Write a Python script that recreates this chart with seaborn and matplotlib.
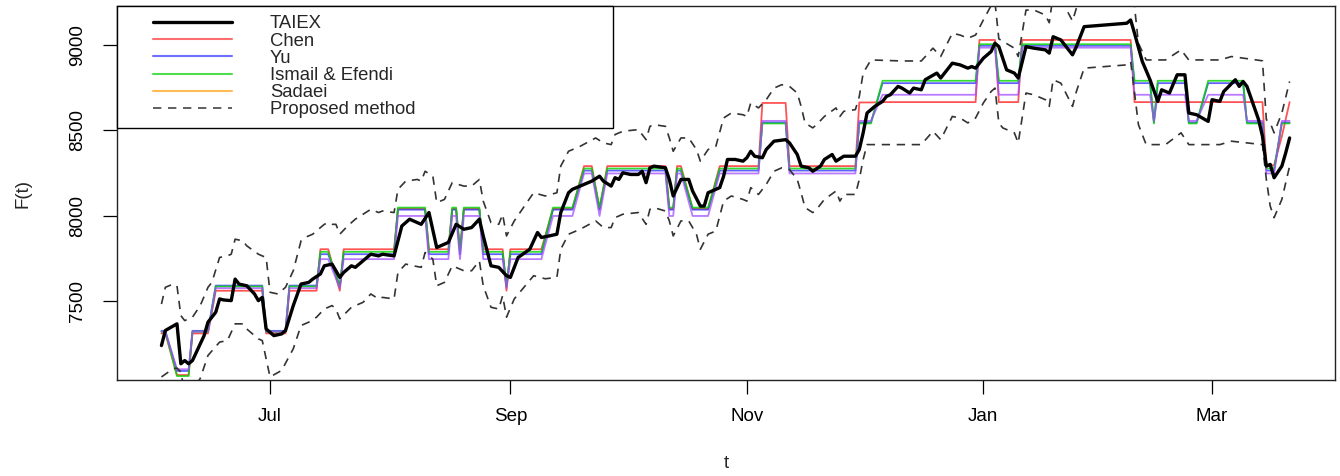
import matplotlib
matplotlib.use("Agg")
import matplotlib.pyplot as plt
import seaborn as sns
import pandas as pd
from matplotlib.lines import Line2D
from matplotlib.legend_handler import HandlerLine2D

# ---------------- data ----------------
taiex_dates = [
    "2010-06-03", "2010-06-04", "2010-06-07", "2010-06-08", "2010-06-09", "2010-06-10", "2010-06-11",
    "2010-06-14", "2010-06-15", "2010-06-17", "2010-06-18", "2010-06-19", "2010-06-21", "2010-06-22",
    "2010-06-23", "2010-06-25", "2010-06-27", "2010-06-28", "2010-06-29", "2010-06-30", "2010-07-02",
    "2010-07-04", "2010-07-05", "2010-07-07", "2010-07-09", "2010-07-11", "2010-07-12", "2010-07-14",
    "2010-07-15", "2010-07-17", "2010-07-19", "2010-07-20", "2010-07-22", "2010-07-23", "2010-07-27",
    "2010-07-29", "2010-07-30", "2010-08-02", "2010-08-04", "2010-08-06", "2010-08-09", "2010-08-11",
    "2010-08-13", "2010-08-16", "2010-08-18", "2010-08-20", "2010-08-22", "2010-08-24", "2010-08-25",
    "2010-08-27", "2010-08-29", "2010-08-31", "2010-09-01", "2010-09-03", "2010-09-06", "2010-09-08",
    "2010-09-09", "2010-09-11", "2010-09-13", "2010-09-14", "2010-09-16", "2010-09-17", "2010-09-19",
    "2010-09-22", "2010-09-24", "2010-09-25", "2010-09-27", "2010-09-28", "2010-09-29", "2010-09-30",
    "2010-10-02", "2010-10-04", "2010-10-05", "2010-10-06", "2010-10-07", "2010-10-08", "2010-10-11",
    "2010-10-12", "2010-10-13", "2010-10-14", "2010-10-15", "2010-10-17", "2010-10-18", "2010-10-20",
    "2010-10-21", "2010-10-22", "2010-10-24", "2010-10-25", "2010-10-26", "2010-10-27", "2010-10-29",
    "2010-10-31", "2010-11-01", "2010-11-02", "2010-11-03", "2010-11-05", "2010-11-06", "2010-11-08",
    "2010-11-11", "2010-11-12", "2010-11-14", "2010-11-15", "2010-11-17", "2010-11-18", "2010-11-20",
    "2010-11-21", "2010-11-23", "2010-11-24", "2010-11-26", "2010-11-29", "2010-11-30", "2010-12-01",
    "2010-12-02", "2010-12-04", "2010-12-06", "2010-12-07", "2010-12-08", "2010-12-10", "2010-12-11",
    "2010-12-13", "2010-12-14", "2010-12-16", "2010-12-17", "2010-12-20", "2010-12-21", "2010-12-24",
    "2010-12-26", "2010-12-28", "2010-12-29", "2010-12-30", "2011-01-01", "2011-01-03", "2011-01-04",
    "2011-01-05", "2011-01-07", "2011-01-09", "2011-01-10", "2011-01-12", "2011-01-14", "2011-01-17",
    "2011-01-18", "2011-01-19", "2011-01-21", "2011-01-24", "2011-01-25", "2011-01-27", "2011-02-07",
    "2011-02-08", "2011-02-09", "2011-02-11", "2011-02-13", "2011-02-15", "2011-02-16", "2011-02-18",
    "2011-02-20", "2011-02-22", "2011-02-23", "2011-02-25", "2011-02-28", "2011-03-01", "2011-03-03",
    "2011-03-04", "2011-03-07", "2011-03-08", "2011-03-09", "2011-03-10", "2011-03-13", "2011-03-14",
    "2011-03-15", "2011-03-16", "2011-03-17", "2011-03-19", "2011-03-20", "2011-03-21",
]
taiex_values = [
    7239, 7327, 7366, 7132, 7151, 7132, 7151, 7297, 7376, 7434, 7512, 7506, 7502, 7628,
    7599, 7589, 7541, 7502, 7521, 7336, 7297, 7307, 7327, 7473, 7599, 7609, 7628, 7658,
    7706, 7716, 7638, 7667, 7706, 7697, 7774, 7764, 7774, 7764, 7939, 7979, 7949, 8018,
    7813, 7843, 7949, 7920, 7930, 7979, 7881, 7706, 7697, 7648, 7638, 7755, 7803, 7901,
    7872, 7881, 7891, 8018, 8134, 8154, 8173, 8202, 8231, 8202, 8173, 8222, 8212, 8251,
    8241, 8241, 8260, 8193, 8280, 8290, 8280, 8212, 8115, 8164, 8212, 8212, 8144, 8056,
    8056, 8134, 8154, 8164, 8231, 8329, 8329, 8319, 8339, 8377, 8348, 8339, 8387, 8436,
    8445, 8426, 8358, 8290, 8280, 8260, 8290, 8329, 8358, 8319, 8348, 8348, 8387, 8485,
    8601, 8640, 8669, 8698, 8708, 8757, 8747, 8718, 8747, 8737, 8796, 8835, 8806, 8893,
    8883, 8864, 8873, 8864, 8922, 8961, 9010, 8990, 8854, 8835, 8806, 8990, 8981, 8971,
    8952, 9048, 9029, 8942, 8990, 9107, 9127, 9146, 9068, 8903, 8796, 8669, 8737, 8718,
    8825, 8825, 8601, 8591, 8552, 8679, 8669, 8727, 8796, 8757, 8786, 8757, 8562, 8465,
    8290, 8300, 8222, 8290, 8368, 8455,
]

# forecasts of the compared methods (same forecast days for all four)
forecast_dates = [
    "2010-06-03", "2010-06-04", "2010-06-07", "2010-06-10", "2010-06-11", "2010-06-15", "2010-06-17",
    "2010-06-29", "2010-06-30", "2010-07-05", "2010-07-06", "2010-07-13", "2010-07-14", "2010-07-16",
    "2010-07-19", "2010-07-20", "2010-08-02", "2010-08-03", "2010-08-10", "2010-08-11", "2010-08-16",
    "2010-08-17", "2010-08-18", "2010-08-19", "2010-08-20", "2010-08-24", "2010-08-25", "2010-08-30",
    "2010-08-31", "2010-09-01", "2010-09-09", "2010-09-12", "2010-09-17", "2010-09-20", "2010-09-22",
    "2010-09-24", "2010-09-26", "2010-10-11", "2010-10-12", "2010-10-13", "2010-10-14", "2010-10-15",
    "2010-10-18", "2010-10-22", "2010-10-25", "2010-11-04", "2010-11-05", "2010-11-11", "2010-11-12",
    "2010-11-29", "2010-11-30", "2010-12-03", "2010-12-06", "2010-12-30", "2010-12-31", "2011-01-04",
    "2011-01-05", "2011-01-10", "2011-01-11", "2011-02-08", "2011-02-09", "2011-02-13", "2011-02-14",
    "2011-02-15", "2011-02-22", "2011-02-23", "2011-02-25", "2011-02-28", "2011-03-09", "2011-03-10",
    "2011-03-14", "2011-03-15", "2011-03-17", "2011-03-19", "2011-03-21",
]
chen_values = [
    7310, 7310, 7066, 7066, 7310, 7310, 7560, 7560, 7310, 7310,
    7560, 7560, 7803, 7803, 7560, 7803, 7803, 8040, 8040, 7803,
    7803, 8040, 8040, 7803, 8040, 8040, 7803, 7803, 7560, 7803,
    7803, 8040, 8040, 8290, 8290, 8040, 8290, 8290, 8040, 8040,
    8290, 8290, 8040, 8040, 8290, 8290, 8660, 8660, 8290, 8290,
    8663, 8663, 8665, 8665, 9029, 9029, 8665, 8665, 9029, 9029,
    8665, 8665, 8665, 8665, 8665, 8665, 8665, 8665, 8665, 8665,
    8665, 8295, 8295, 8465, 8665,
]
yu_values = [
    7325, 7325, 7090, 7090, 7325, 7325, 7590, 7590, 7325, 7325,
    7590, 7590, 7774, 7774, 7590, 7774, 7774, 8035, 8035, 7774,
    7774, 8035, 8035, 7774, 8035, 8035, 7774, 7774, 7590, 7774,
    7774, 8035, 8035, 8264, 8264, 8035, 8264, 8264, 8035, 8035,
    8264, 8264, 8035, 8035, 8264, 8264, 8545, 8545, 8264, 8264,
    8545, 8545, 8776, 8776, 8995, 8995, 8776, 8776, 8995, 8995,
    8776, 8776, 8545, 8776, 8776, 8545, 8545, 8776, 8776, 8545,
    8545, 8264, 8264, 8545, 8545,
]
ismail_values = [
    7320, 7320, 7060, 7060, 7320, 7320, 7585, 7585, 7320, 7320,
    7585, 7585, 7788, 7788, 7585, 7788, 7788, 8047, 8047, 7788,
    7788, 8047, 8047, 7788, 8047, 8047, 7788, 7788, 7585, 7788,
    7788, 8047, 8047, 8276, 8276, 8047, 8276, 8276, 8047, 8047,
    8276, 8276, 8047, 8047, 8276, 8276, 8540, 8540, 8276, 8276,
    8540, 8540, 8790, 8790, 9004, 9004, 8790, 8790, 9004, 9004,
    8790, 8790, 8540, 8790, 8790, 8540, 8540, 8790, 8790, 8540,
    8540, 8276, 8276, 8540, 8540,
]
sadaei_values = [
    7320, 7320, 7100, 7100, 7320, 7320, 7575, 7575, 7320, 7320,
    7575, 7575, 7745, 7745, 7575, 7745, 7745, 7998, 7998, 7745,
    7745, 7998, 7998, 7745, 7998, 7998, 7745, 7745, 7575, 7745,
    7745, 7998, 7998, 8247, 8247, 7998, 8247, 8247, 7998, 7998,
    8247, 8247, 7998, 7998, 8247, 8247, 8555, 8555, 8247, 8247,
    8555, 8555, 8708, 8708, 8984, 8984, 8708, 8708, 8984, 8984,
    8708, 8708, 8555, 8708, 8708, 8555, 8555, 8708, 8708, 8555,
    8555, 8247, 8247, 8555, 8555,
]

# proposed method: upper and lower bounds
upper_dates = [
    "2010-06-03", "2010-06-04", "2010-06-06", "2010-06-07", "2010-06-08", "2010-06-09", "2010-06-11",
    "2010-06-13", "2010-06-15", "2010-06-16", "2010-06-18", "2010-06-20", "2010-06-21", "2010-06-22",
    "2010-06-24", "2010-06-25", "2010-06-28", "2010-06-29", "2010-06-30", "2010-07-01", "2010-07-03",
    "2010-07-05", "2010-07-07", "2010-07-09", "2010-07-10", "2010-07-12", "2010-07-14", "2010-07-15",
    "2010-07-16", "2010-07-17", "2010-07-18", "2010-07-19", "2010-07-21", "2010-07-23", "2010-07-25",
    "2010-07-27", "2010-07-29", "2010-07-30", "2010-08-02", "2010-08-03", "2010-08-05", "2010-08-08",
    "2010-08-09", "2010-08-10", "2010-08-12", "2010-08-13", "2010-08-15", "2010-08-17", "2010-08-20",
    "2010-08-22", "2010-08-24", "2010-08-25", "2010-08-27", "2010-08-29", "2010-08-30", "2010-08-31",
    "2010-09-02", "2010-09-07", "2010-09-10", "2010-09-13", "2010-09-14", "2010-09-16", "2010-09-19",
    "2010-09-23", "2010-09-25", "2010-09-27", "2010-09-28", "2010-09-30", "2010-10-04", "2010-10-06",
    "2010-10-07", "2010-10-08", "2010-10-11", "2010-10-12", "2010-10-13", "2010-10-15", "2010-10-17",
    "2010-10-19", "2010-10-20", "2010-10-22", "2010-10-24", "2010-10-26", "2010-10-28", "2010-10-31",
    "2010-11-01", "2010-11-02", "2010-11-04", "2010-11-06", "2010-11-08", "2010-11-10", "2010-11-12",
    "2010-11-14", "2010-11-15", "2010-11-16", "2010-11-18", "2010-11-19", "2010-11-21", "2010-11-24",
    "2010-11-25", "2010-11-26", "2010-11-29", "2010-11-30", "2010-12-01", "2010-12-03", "2010-12-11",
    "2010-12-16", "2010-12-19", "2010-12-21", "2010-12-24", "2010-12-26", "2010-12-28", "2010-12-30",
    "2011-01-01", "2011-01-03", "2011-01-04", "2011-01-05", "2011-01-09", "2011-01-10", "2011-01-12",
    "2011-01-14", "2011-01-17", "2011-01-18", "2011-01-19", "2011-01-21", "2011-01-24", "2011-01-25",
    "2011-01-27", "2011-02-07", "2011-02-08", "2011-02-09", "2011-02-10", "2011-02-12", "2011-02-17",
    "2011-02-21", "2011-02-23", "2011-03-03", "2011-03-06", "2011-03-14", "2011-03-15", "2011-03-16",
    "2011-03-17", "2011-03-19", "2011-03-21",
]
upper_values = [
    7482, 7580, 7599, 7589, 7414, 7385, 7405, 7473, 7580, 7609, 7755, 7764, 7774, 7862,
    7852, 7823, 7774, 7764, 7755, 7551, 7541, 7580, 7677, 7852, 7872, 7891, 7930, 7949,
    7959, 7949, 7949, 7891, 7939, 7979, 8008, 8037, 8018, 8027, 8018, 8154, 8202, 8212,
    8202, 8260, 8231, 8076, 8095, 8193, 8173, 8173, 8212, 8085, 7959, 7949, 8008, 7881,
    7969, 8134, 8115, 8134, 8290, 8377, 8406, 8455, 8426, 8416, 8475, 8494, 8504, 8445,
    8523, 8533, 8523, 8455, 8377, 8455, 8455, 8387, 8319, 8387, 8406, 8572, 8601, 8591,
    8581, 8660, 8631, 8679, 8747, 8767, 8757, 8718, 8640, 8543, 8514, 8533, 8581, 8631,
    8581, 8611, 8621, 8698, 8835, 8912, 8906, 8906, 8981, 8932, 9068, 9058, 9039, 9058,
    9146, 9230, 9250, 9035, 8981, 8932, 9204, 9205, 9175, 9130, 9290, 9270, 9140, 9215,
    9355, 9375, 9395, 9224, 9010, 8912, 8912, 8971, 8912, 8912, 8932, 8907, 8562, 8543,
    8485, 8601, 8786,
]
lower_dates = [
    "2010-06-03", "2010-06-06", "2010-06-07", "2010-06-08", "2010-06-09", "2010-06-11", "2010-06-13",
    "2010-06-15", "2010-06-18", "2010-06-20", "2010-06-22", "2010-06-24", "2010-06-25", "2010-06-28",
    "2010-06-29", "2010-07-01", "2010-07-04", "2010-07-07", "2010-07-09", "2010-07-11", "2010-07-13",
    "2010-07-15", "2010-07-17", "2010-07-18", "2010-07-19", "2010-07-22", "2010-07-25", "2010-07-27",
    "2010-07-29", "2010-07-30", "2010-08-02", "2010-08-03", "2010-08-05", "2010-08-07", "2010-08-09",
    "2010-08-10", "2010-08-12", "2010-08-13", "2010-08-15", "2010-08-17", "2010-08-20", "2010-08-22",
    "2010-08-24", "2010-08-25", "2010-08-27", "2010-08-29", "2010-08-30", "2010-08-31", "2010-09-02",
    "2010-09-07", "2010-09-10", "2010-09-13", "2010-09-14", "2010-09-16", "2010-09-19", "2010-09-23",
    "2010-09-25", "2010-09-27", "2010-09-28", "2010-09-30", "2010-10-04", "2010-10-06", "2010-10-07",
    "2010-10-08", "2010-10-11", "2010-10-12", "2010-10-13", "2010-10-15", "2010-10-17", "2010-10-19",
    "2010-10-20", "2010-10-22", "2010-10-24", "2010-10-26", "2010-10-28", "2010-10-31", "2010-11-01",
    "2010-11-02", "2010-11-04", "2010-11-06", "2010-11-08", "2010-11-10", "2010-11-12", "2010-11-14",
    "2010-11-15", "2010-11-16", "2010-11-18", "2010-11-19", "2010-11-21", "2010-11-24", "2010-11-25",
    "2010-11-26", "2010-11-29", "2010-11-30", "2010-12-01", "2010-12-02", "2010-12-11", "2010-12-16",
    "2010-12-19", "2010-12-21", "2010-12-24", "2010-12-26", "2010-12-28", "2010-12-30", "2011-01-01",
    "2011-01-03", "2011-01-04", "2011-01-05", "2011-01-06", "2011-01-09", "2011-01-10", "2011-01-12",
    "2011-01-14", "2011-01-17", "2011-01-18", "2011-01-19", "2011-01-21", "2011-01-24", "2011-01-25",
    "2011-01-27", "2011-02-07", "2011-02-08", "2011-02-09", "2011-02-10", "2011-02-12", "2011-02-17",
    "2011-02-21", "2011-02-23", "2011-03-03", "2011-03-06", "2011-03-14", "2011-03-15", "2011-03-16",
    "2011-03-17", "2011-03-19", "2011-03-21",
]
lower_values = [
    7055, 7103, 7107, 7084, 6960, 6980, 7046, 7181, 7259, 7268, 7366, 7366, 7336, 7278,
    7268, 7055, 7093, 7220, 7356, 7376, 7405, 7453, 7473, 7453, 7395, 7463, 7492, 7541,
    7512, 7521, 7512, 7667, 7716, 7706, 7697, 7784, 7745, 7589, 7609, 7706, 7677, 7677,
    7735, 7589, 7463, 7453, 7531, 7405, 7512, 7648, 7630, 7638, 7803, 7891, 7920, 7969,
    7930, 7930, 7988, 8008, 8018, 7949, 8037, 8047, 8027, 7969, 7881, 7969, 7969, 7891,
    7803, 7891, 7910, 8085, 8115, 8095, 8085, 8164, 8124, 8183, 8260, 8280, 8270, 8212,
    8134, 8047, 8018, 8037, 8095, 8144, 8085, 8124, 8124, 8212, 8329, 8416, 8416, 8416,
    8494, 8445, 8581, 8572, 8543, 8572, 8660, 8727, 8747, 8543, 8514, 8485, 8426, 8718,
    8708, 8679, 8640, 8796, 8776, 8640, 8727, 8864, 8883, 8903, 8718, 8533, 8416, 8416,
    8485, 8416, 8416, 8436, 8416, 8212, 8056, 7988, 8095, 8290,
]

legend_labels = ["TAIEX", "Chen", "Yu", "Ismail & Efendi", "Sadaei", "Proposed method"]
tick_dates = ["2010-07-01", "2010-09-01", "2010-11-01", "2011-01-01", "2011-03-01"]
tick_labels = ["Jul", "Sep", "Nov", "Jan", "Mar"]
y_ticks = [7500, 8000, 8500, 9000]


def frame(dates, values):
    return pd.DataFrame({"t": pd.to_datetime(dates), "F": values})


# ---------------- style ----------------
sns.set_theme(style="ticks")
plt.rcParams["font.family"] = ["Liberation Sans", "DejaVu Sans"]
plt.rcParams["axes.linewidth"] = 1.0

fig = plt.figure(figsize=(13.4, 4.76), dpi=100)
ax = fig.add_axes([117 / 1340, 1 - 380 / 476, 1218 / 1340, 374 / 476])

series = [
    (chen_values, "#FF1A1A", 0.75),
    (yu_values, "#2B2BFF", 0.75),
    (ismail_values, "#00D400", 0.8),
    (sadaei_values, "#A34DFF", 0.75),
]
for vals, col, a in series:
    sns.lineplot(data=frame(forecast_dates, vals), x="t", y="F", color=col, alpha=a,
                 lw=1.3, estimator=None, sort=False, legend=False, ax=ax, zorder=2)

for d, v in [(upper_dates, upper_values), (lower_dates, lower_values)]:
    sns.lineplot(data=frame(d, v), x="t", y="F", color="#333333", lw=1.2,
                 estimator=None, sort=False, legend=False, ax=ax, zorder=3)
    ax.lines[-1].set_dashes([5, 4])

sns.lineplot(data=frame(taiex_dates, taiex_values), x="t", y="F", color="black", lw=2.4,
             estimator=None, sort=False, legend=False, ax=ax, zorder=4)

ax.set_xlim(pd.Timestamp("2010-05-22 12:45"), pd.Timestamp("2011-04-01 17:00"))
ax.set_ylim(7037, 9228)
ax.set_xticks(pd.to_datetime(tick_dates))
ax.set_xticklabels(tick_labels)
ax.set_yticks(y_ticks)
ax.set_yticklabels([str(v) for v in y_ticks], rotation=90, va="center")
ax.tick_params(axis="both", direction="out", length=10, width=0.9, colors="black",
               labelsize=13.5)
ax.tick_params(axis="x", pad=10)
ax.tick_params(axis="y", pad=12)
for s in ax.spines.values():
    s.set_color("#222222")
    s.set_linewidth(1.0)

ax.set_xlabel("t", fontsize=13.5)
ax.set_ylabel("F(t)", fontsize=13.5)
ax.xaxis.set_label_coords(0.5, -0.20)
ax.yaxis.set_label_coords(-0.070, 0.5)

handles = [
    Line2D([], [], color="black", lw=2.4),
    Line2D([], [], color="#FF6E6E", lw=1.5),
    Line2D([], [], color="#6E6EFF", lw=1.5),
    Line2D([], [], color="#4DDD4D", lw=1.5),
    Line2D([], [], color="#FFBB55", lw=1.5),
    Line2D([], [], color="#444444", lw=1.2, dashes=[5, 4]),
]
leg = ax.legend(handles, legend_labels, loc="upper left", mode="expand",
                bbox_to_anchor=(0, 0, 0.4072, 1.0), borderaxespad=0, fontsize=13.3,
                labelspacing=0.01, handlelength=5.71, handletextpad=2.06,
                borderpad=0.51, frameon=True, fancybox=False,
                handler_map={Line2D: HandlerLine2D(xpad=1.43)})
leg.get_frame().set_edgecolor("black")
leg.get_frame().set_linewidth(1.0)
leg.get_frame().set_alpha(1)
leg.set_zorder(10)

fig.savefig("out.png", dpi=100)
